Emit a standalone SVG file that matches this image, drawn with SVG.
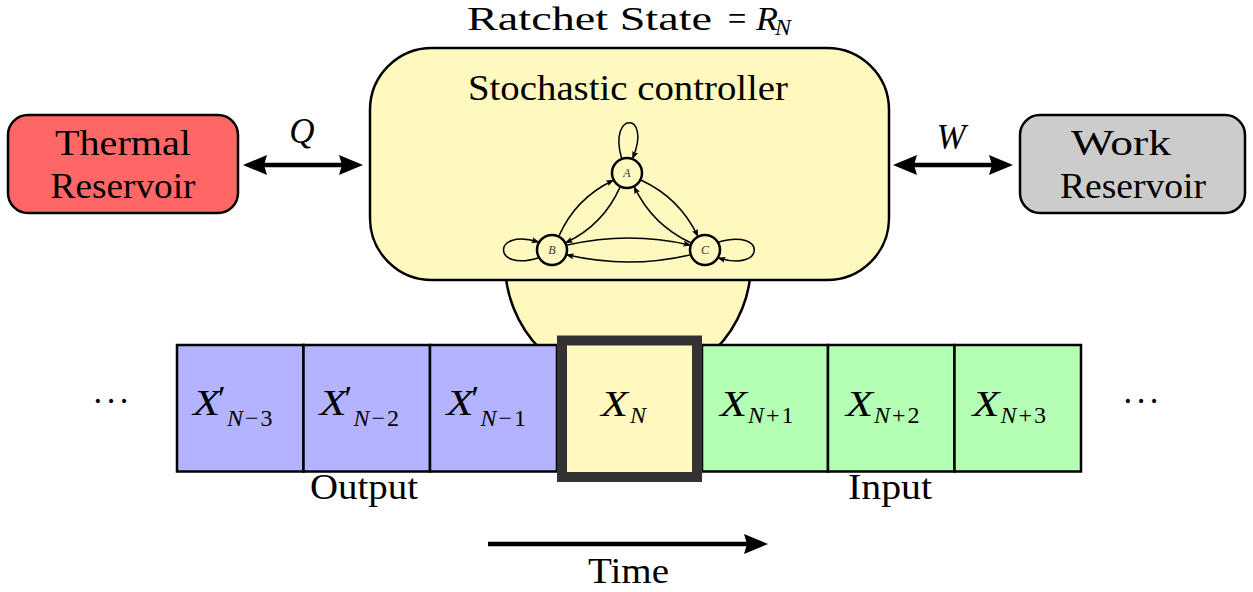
<svg xmlns="http://www.w3.org/2000/svg" width="1253" height="592" viewBox="0 0 1253 592">
<style>
text{font-family:"Liberation Serif","Times New Roman",serif;fill:#000}
.lbl{font-size:35px}
.it{font-style:italic}
.sub{font-size:24px}
.box{stroke:#000;stroke-width:2.5}
.cell{stroke:#000;stroke-width:2.5}
.big{stroke:#000;stroke-width:4.5;fill:none}
.edge{stroke:#000;stroke-width:1.5;fill:none}
.st{fill:#fff8bf;stroke:#000;stroke-width:2.5}
.stl{font-size:12px;font-style:italic;fill:#333}
</style>
<defs>
<marker id="bh" viewBox="0 0 24 20" refX="6" refY="10" markerWidth="24" markerHeight="20" markerUnits="userSpaceOnUse" orient="auto-start-reverse">
<path d="M0,0 L24,10 L0,20 L3,10 Z" fill="#000"/>
</marker>
<marker id="sh" viewBox="0 0 8 6" refX="6" refY="3" markerWidth="8" markerHeight="6" markerUnits="userSpaceOnUse" orient="auto">
<path d="M0,0 L8,3 L0,6 L1.5,3 Z" fill="#000"/>
</marker>
</defs>

<!-- top label -->
<g id="ratchet-label">
<text x="467" y="30" font-size="33" textLength="245" lengthAdjust="spacingAndGlyphs">Ratchet State</text>
<text x="737" y="30" font-size="33" text-anchor="middle">=</text>
<text class="it" x="756" y="30" font-size="33" textLength="22" lengthAdjust="spacingAndGlyphs">R</text>
<text class="sub it" x="775" y="35">N</text>
</g>

<!-- controller -->
<g id="controller">
<circle cx="628" cy="263" r="123" fill="#fff8bf" stroke="#000" stroke-width="2.5"/>
<rect x="370" y="48" width="519" height="232" rx="62" ry="62" fill="#fff8bf" class="box"/>
<text class="lbl" x="468" y="100" textLength="320" lengthAdjust="spacingAndGlyphs">Stochastic controller</text>
</g>

<!-- state graph -->
<g id="state-A">
<circle class="st" cx="627" cy="173" r="15"/>
<text class="stl" x="627" y="177" text-anchor="middle">A</text>
</g>
<g id="state-B">
<circle class="st" cx="552" cy="250" r="15"/>
<text class="stl" x="552" y="254" text-anchor="middle">B</text>
</g>
<g id="state-C">
<circle class="st" cx="705" cy="250" r="15"/>
<text class="stl" x="705" y="254" text-anchor="middle">C</text>
</g>

<g id="state-edges">
<path class="edge" marker-end="url(#sh)" d="M559.1,235.6 Q575.7,198.4 612.4,180.7"/>
<path class="edge" marker-end="url(#sh)" d="M619.9,187.4 Q603.3,224.7 566.6,242.3"/>
<path class="edge" marker-end="url(#sh)" d="M641.3,180.2 Q679.2,197.8 697.4,235.3"/>
<path class="edge" marker-end="url(#sh)" d="M690.7,242.8 Q652.9,225.3 634.6,187.7"/>
<path class="edge" marker-end="url(#sh)" d="M567.2,245.1 Q628.5,231 689.3,244.9"/>
<path class="edge" marker-end="url(#sh)" d="M689.8,254.9 Q628.5,269 567.7,255.1"/>
<path class="edge" marker-end="url(#sh)" d="M621.5,158 C608,111 652,111 633,157.5"/>
<path class="edge" marker-end="url(#sh)" d="M538,258 C492,272 492,228 537.7,241.8"/>
<path class="edge" marker-end="url(#sh)" d="M718.9,242 C766,228 766,272 719.3,258.3"/>
</g>

<!-- reservoirs -->
<g id="thermal">
<rect x="8" y="115" width="230" height="98" rx="20" ry="20" fill="#ff6666" class="box"/>
<text class="lbl" x="123" y="155" text-anchor="middle" textLength="136" lengthAdjust="spacingAndGlyphs">Thermal</text>
<text class="lbl" x="123" y="198" text-anchor="middle" textLength="145" lengthAdjust="spacingAndGlyphs">Reservoir</text>
</g>
<g id="work">
<rect x="1020" y="115" width="225" height="98" rx="20" ry="20" fill="#cccccc" class="box"/>
<text class="lbl" x="1121" y="155" text-anchor="middle" textLength="100" lengthAdjust="spacingAndGlyphs">Work</text>
<text class="lbl" x="1133" y="198" text-anchor="middle" textLength="146" lengthAdjust="spacingAndGlyphs">Reservoir</text>
</g>

<!-- connectors -->
<g id="connectors">
<line class="big" x1="261" y1="165" x2="345" y2="165" marker-start="url(#bh)" marker-end="url(#bh)"/>
<line class="big" x1="911" y1="165" x2="995" y2="165" marker-start="url(#bh)" marker-end="url(#bh)"/>
<line class="big" x1="488" y1="544" x2="750" y2="544" marker-end="url(#bh)"/>
</g>
<text class="lbl it" x="302" y="143" text-anchor="middle">Q</text>
<text class="lbl it" x="951" y="149" text-anchor="middle">W</text>

<!-- tape -->
<g id="tape-out1">
<rect class="cell" x="177" y="345" width="126.5" height="126.5" fill="#b3b3ff"/>
<text class="lbl it" x="193" y="415" textLength="27" lengthAdjust="spacingAndGlyphs">X</text>
<text class="lbl" x="218" y="411">′</text>
<text class="sub" x="227" y="426"><tspan class="it">N</tspan><tspan dx="2">−</tspan><tspan dx="2">3</tspan></text>
</g>
<g id="tape-out2">
<rect class="cell" x="303.5" y="345" width="126.5" height="126.5" fill="#b3b3ff"/>
<text class="lbl it" x="319.5" y="415" textLength="27" lengthAdjust="spacingAndGlyphs">X</text>
<text class="lbl" x="344.5" y="411">′</text>
<text class="sub" x="353.5" y="426"><tspan class="it">N</tspan><tspan dx="2">−</tspan><tspan dx="2">2</tspan></text>
</g>
<g id="tape-out3">
<rect class="cell" x="430" y="345" width="127" height="126.5" fill="#b3b3ff"/>
<text class="lbl it" x="446.5" y="415" textLength="27" lengthAdjust="spacingAndGlyphs">X</text>
<text class="lbl" x="471.5" y="411">′</text>
<text class="sub" x="480.5" y="426"><tspan class="it">N</tspan><tspan dx="2">−</tspan><tspan dx="2">1</tspan></text>
</g>
<g id="tape-in1">
<rect class="cell" x="702" y="345" width="126" height="126.5" fill="#b3ffb3"/>
<text class="lbl it" x="720" y="416" textLength="27" lengthAdjust="spacingAndGlyphs">X</text>
<text class="sub" x="748" y="423"><tspan class="it">N</tspan><tspan dx="2">+</tspan><tspan dx="2">1</tspan></text>
</g>
<g id="tape-in2">
<rect class="cell" x="828" y="345" width="126.5" height="126.5" fill="#b3ffb3"/>
<text class="lbl it" x="846" y="416" textLength="27" lengthAdjust="spacingAndGlyphs">X</text>
<text class="sub" x="874" y="423"><tspan class="it">N</tspan><tspan dx="2">+</tspan><tspan dx="2">2</tspan></text>
</g>
<g id="tape-in3">
<rect class="cell" x="954.5" y="345" width="126.5" height="126.5" fill="#b3ffb3"/>
<text class="lbl it" x="972.5" y="416" textLength="27" lengthAdjust="spacingAndGlyphs">X</text>
<text class="sub" x="1000.5" y="423"><tspan class="it">N</tspan><tspan dx="2">+</tspan><tspan dx="2">3</tspan></text>
</g>
<g id="tape-current">
<rect x="562" y="340.5" width="135" height="136.5" fill="#fff8bf" stroke="#333" stroke-width="10"/>
<text class="lbl it" x="601" y="416" textLength="27" lengthAdjust="spacingAndGlyphs">X</text>
<text class="sub it" x="630" y="423">N</text>
</g>

<g id="dots">
<text class="lbl" x="111" y="413" text-anchor="middle" textLength="38" lengthAdjust="spacing">· · ·</text>
<text class="lbl" x="1141" y="413" text-anchor="middle" textLength="38" lengthAdjust="spacing">· · ·</text>
</g>

<text class="lbl" x="364" y="499" text-anchor="middle" textLength="108" lengthAdjust="spacingAndGlyphs">Output</text>
<text class="lbl" x="890" y="499" text-anchor="middle" textLength="84" lengthAdjust="spacingAndGlyphs">Input</text>
<text class="lbl" x="628.5" y="583" text-anchor="middle" textLength="81" lengthAdjust="spacingAndGlyphs">Time</text>
</svg>
